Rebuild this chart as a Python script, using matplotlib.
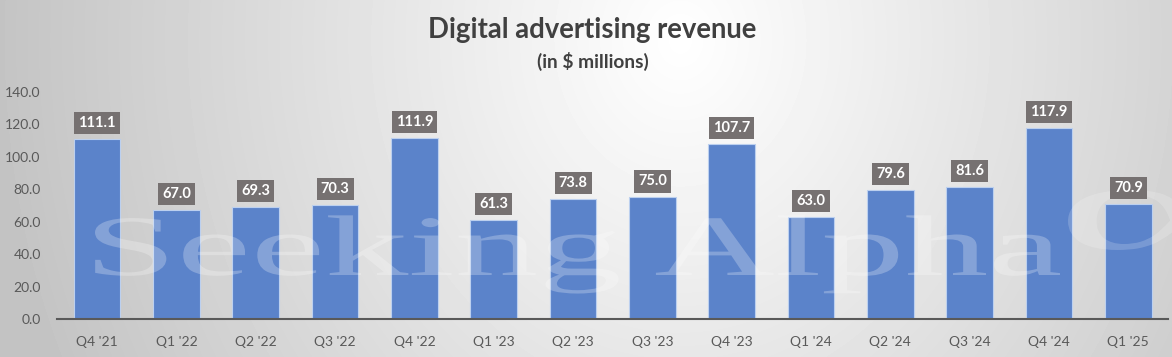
import matplotlib as mpl
mpl.use("Agg")
import numpy as np
import matplotlib.pyplot as plt
from matplotlib.textpath import TextPath
from matplotlib.patches import PathPatch
from matplotlib.font_manager import FontProperties
from matplotlib.transforms import Affine2D, IdentityTransform

quarters = ["Q4 '21", "Q1 '22", "Q2 '22", "Q3 '22", "Q4 '22", "Q1 '23", "Q2 '23",
            "Q3 '23", "Q4 '23", "Q1 '24", "Q2 '24", "Q3 '24", "Q4 '24", "Q1 '25"]
revenue = [111.1, 67.0, 69.3, 70.3, 111.9, 61.3, 73.8, 75.0, 107.7, 63.0, 79.6, 81.6, 117.9, 70.9]
yticks = [0, 20, 40, 60, 80, 100, 120, 140]

plt.rcParams['font.family'] = ['Lato', 'DejaVu Sans']

W, H = 1172, 357
fig = plt.figure(figsize=(W / 100, H / 100), dpi=100)

# radial grey background
bg = fig.add_axes([0, 0, 1, 1], zorder=-5)
xx, yy = np.meshgrid(np.arange(W), np.arange(H))
r = np.sqrt(((xx - 680) / 690.0) ** 2 + ((yy - 40) / 800.0) ** 2)
r = np.clip(r, 0, 1)
shade = 1.0 - r * (255 - 195) / 255.0
bg.imshow(shade, cmap='gray', vmin=0, vmax=1, aspect='auto', interpolation='bilinear')
bg.axis('off')

ax = fig.add_axes([57.4 / W, 38 / H, (1168 - 57.4) / W, (319 - 92) / H])
ax.set_facecolor('none')
x = np.arange(len(quarters))
ax.bar(x, revenue, width=0.59, color='#5B83CA', edgecolor='#BCD0EF', linewidth=0.8, zorder=2)

for i, v in enumerate(revenue):
    ax.annotate(f"{v:.1f}", (i, v), xytext=(0, 11.5), textcoords='offset points',
                ha='center', va='center', fontsize=10.5, fontweight='bold', color='white',
                bbox=dict(boxstyle='square,pad=0.28', fc='#767171', ec='none'), zorder=5)

ax.set_xlim(-0.5, len(quarters) - 0.5)
ax.set_ylim(0, 140)
ax.set_yticks(yticks)
ax.set_yticklabels([f"{t:.1f}" for t in yticks])
ax.set_xticks(x)
ax.set_xticklabels(quarters)
ax.tick_params(axis='both', length=0, labelsize=10, labelcolor='#595959')
ax.tick_params(axis='y', pad=12)
ax.tick_params(axis='x', pad=12)
for s in ['top', 'right', 'left']:
    ax.spines[s].set_visible(False)
ax.spines['bottom'].set_color('#595959')
ax.spines['bottom'].set_linewidth(1.5)
ax.spines['bottom'].set_zorder(3)

# watermark
wm = TextPath((0, 0), "Seeking Alpha", size=1, prop=FontProperties(family="Liberation Serif"))
ext = wm.get_extents()
tr = Affine2D().translate(-ext.x0, 0).scale((1060 - 95) / ext.width, 86).translate(95, H - 275)
p = PathPatch(tr.transform_path(wm), transform=IdentityTransform(), fc='white', ec='none',
              alpha=0.25, zorder=4)
ax.add_artist(p)
p.set_clip_on(False)

al = TextPath((0, 0), "α", size=1, prop=FontProperties(family="Liberation Serif"))
aext = al.get_extents()
tr2 = Affine2D().translate(-aext.x0, -aext.y0).scale(150 / aext.width, 60 / aext.height).translate(1068, H - 250)
p2 = PathPatch(tr2.transform_path(al), transform=IdentityTransform(), fc='white', ec='none',
               alpha=0.18, zorder=4)
ax.add_artist(p2)
p2.set_clip_on(False)

fig.text(592 / W, 1 - 30 / H, "Digital advertising revenue", ha='center', va='center',
         fontsize=19.8, fontweight='bold', color='#404040')
fig.text(593 / W, 1 - 61 / H, "(in $ millions)", ha='center', va='center',
         fontsize=13.8, fontweight='bold', color='#404040')

fig.savefig("out.png", dpi=100)
